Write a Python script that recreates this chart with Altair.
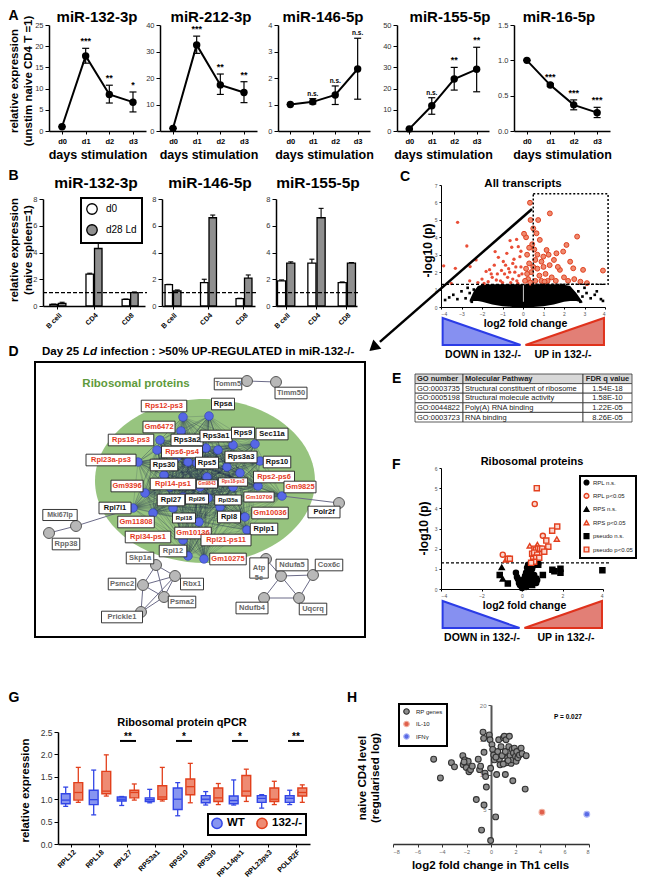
import itertools
import altair as alt
import pandas as pd

W, H = 630, 871
FONT = "Liberation Sans"
RED = "#e3401f"

# ---------------------------------------------------------------- data
A_titles = ["miR-132-3p", "miR-212-3p", "miR-146-5p", "miR-155-5p", "miR-16-5p"]
A_days = ["d0", "d1", "d2", "d3"]
A_mean = [[1.0, 17.7, 8.6, 6.8], [1.0, 32.5, 17.4, 14.5], [1.0, 1.1, 1.36, 2.34],
          [1.0, 11.9, 24.5, 29.1], [1.0, 0.65, 0.37, 0.26]]
A_lo = [[1.0, 16.0, 6.6, 4.5], [1.0, 29.3, 13.8, 10.7], [1.0, 1.02, 1.0, 1.2],
        [1.0, 7.9, 19.3, 18.5], [1.0, 0.63, 0.30, 0.19]]
A_hi = [[1.0, 19.5, 10.8, 9.2], [1.0, 35.8, 21.5, 18.6], [1.0, 1.22, 1.70, 3.5],
        [1.0, 15.7, 30.0, 39.5], [1.0, 0.67, 0.44, 0.335]]
A_sig = [["", "***", "**", "*"], ["", "***", "**", "**"], ["", "n.s.", "n.s.", "n.s."],
         ["", "n.s.", "**", "**"], ["", "***", "***", "***"]]
A_ymax = [25, 40, 4, 50, 1.5]
A_ystep = [5, 10, 1, 10, 0.5]

B_titles = ["miR-132-3p", "miR-146-5p", "miR-155-5p"]
B_cells = ["B cell", "CD4", "CD8"]
B_groups = ["d0", "d28 Ld"]
B_d0 = [[0.12, 2.38, 0.5], [1.6, 1.75, 0.55], [1.88, 3.2, 1.75]]
B_d0_err = [[0.14, 2.45, 0.52], [1.62, 2.0, 0.58], [1.95, 3.5, 1.8]]
B_d28 = [[0.2, 4.3, 1.0], [1.12, 6.6, 2.08], [3.2, 6.6, 3.2]]
B_d28_err = [[0.28, 4.9, 1.05], [1.2, 6.8, 2.32], [3.3, 7.3, 3.25]]

C_red_x = [-3.19, -3.87, -3.3, -2.74, -2.58, -2.29, -2.0, -1.8, -1.63, -1.5, -1.36, -1.2, -1.1, -0.96,
           -0.9, -0.79, -0.7, -0.63, -0.55, -0.5, -0.44, -0.4, -0.31, -0.23, -0.2, -0.15, -0.1, -1.4,
           -1.7, -2.2, -1.0, -0.3, -0.6, -1.25, -0.85, -0.5, -2.6, -3.5, -1.9, -1.55, -0.75, -0.35,
           -0.05, -0.1, -0.65, -1.05, -0.25, -1.3,
           0.34, 0.37, 0.5, 0.66, 0.74, 0.82, 1.31, 1.63, 1.96, 2.12, 2.64, 2.45, 2.93, 3.9, 3.12,
           0.99, 1.15, 1.51, 1.8, 0.2, 0.3, 0.4, 0.25, 0.55, 0.6, 0.7, 0.8, 0.9, 1.0, 1.1, 1.2, 1.3,
           1.4, 1.6, 1.7, 2.0, 2.2, 2.3, 2.5, 2.8, 0.45, 0.15, 0.1, 0.6, 1.05, 0.35, 0.7, 0.9, 1.25,
           0.5, 0.3, 0.15, 0.05, 0.2]
C_red_y = [4.86, 2.36, 2.22, 3.5, 2.32, 2.7, 1.6, 2.04, 2.14, 1.7, 3.18, 2.85, 1.5, 2.61,
           1.9, 3.08, 2.2, 3.81, 3.43, 1.6, 2.74, 2.0, 3.88, 3.46, 1.8, 2.89, 2.3, 2.4,
           1.45, 1.4, 1.4, 1.5, 1.4, 1.9, 2.4, 2.5, 1.5, 1.35, 1.35, 1.9, 1.7, 2.3,
           1.9, 3.2, 2.0, 2.1, 1.35, 1.55,
           5.98, 4.99, 4.51, 4.23, 4.99, 3.85, 5.37, 3.08, 3.18, 3.56, 4.04, 2.22, 2.13, 2.09, 1.37,
           2.89, 3.27, 2.7, 2.13, 3.0, 2.5, 2.0, 1.6, 3.3, 2.7, 2.2, 1.8, 1.5, 2.3, 1.9, 1.5, 2.4,
           1.7, 1.5, 2.3, 1.7, 1.5, 2.6, 1.6, 1.45, 3.6, 2.2, 1.5, 1.5, 1.45, 1.4, 3.0, 2.6, 3.0,
           2.3, 3.4, 4.0, 4.2, 1.9]
C_blk_x = [-3.6, -3.4, -3.2, -3.0, -2.8, -2.7, -2.6, -2.5, -2.4, -3.8, 2.7, 2.8, 2.9, 3.0, 3.1,
           3.3, 3.5, 3.6, 3.8, 3.9]
C_blk_y = [0.55, 0.7, 0.45, 0.9, 0.5, 1.1, 0.8, 0.3, 1.0, 0.4, 0.9, 0.3, 0.6, 1.1, 0.8, 0.5,
           0.7, 0.9, 0.45, 0.35]
C_env_x = [-2.6, -2.4, -2.2, -2.0, -1.5, -1.0, -0.5, 0.0, 0.5, 1.0, 1.5, 2.0, 2.3, 2.6, 2.9]
C_env_top = [0.4, 0.9, 1.2, 1.27, 1.3, 1.3, 1.3, 1.3, 1.3, 1.3, 1.3, 1.27, 1.2, 0.8, 0.3]
C_env_bot = [0.3, 0.35, 0.35, 0.3, 0.15, 0.05, 0.0, 0.0, 0.0, 0.05, 0.15, 0.3, 0.35, 0.35, 0.25]

# network (layout coordinates of the STRING graph)
D_rib_x = [183, 209, 181, 157, 160, 177, 206, 218, 233, 255, 138, 188, 197, 227, 240, 260, 164, 207,
           170, 183, 200, 233, 258, 282, 145, 133, 153, 173, 208, 220, 199, 245, 247, 183, 204, 188]
D_rib_y = [417, 416, 431, 450, 440, 457, 448, 450, 445, 444, 462, 462, 463, 467, 473, 461, 475, 477,
           487, 497, 487, 487, 486, 496, 493, 508, 513, 508, 498, 507, 522, 517, 530, 540, 559, 556]
D_grey = ["Tomm5", "Timm50", "Mki67Ip", "Rpp38", "Polr2f", "Skp1a", "Rbx1", "Psmc2", "Psma2",
          "Prickle1", "Atp5e", "Ndufa5", "Cox6c", "Ndufb4", "Uqcrq"]
D_grey_x = [247, 276, 76, 49, 339, 156, 175, 143, 164, 141, 266, 281, 313, 264, 299]
D_grey_y = [381, 382, 526, 533, 503, 565, 576, 585, 597, 612, 559, 576, 575, 598, 598]
D_grey_edges = [("Tomm5", "Timm50"), ("Mki67Ip", "Rpp38"), ("Skp1a", "Rbx1"), ("Skp1a", "Psmc2"),
                ("Skp1a", "Psma2"), ("Rbx1", "Psmc2"), ("Rbx1", "Psma2"), ("Rbx1", "Prickle1"),
                ("Psmc2", "Psma2"), ("Psmc2", "Prickle1"), ("Psma2", "Prickle1"),
                ("Atp5e", "Ndufa5"), ("Ndufa5", "Cox6c"), ("Ndufa5", "Ndufb4"), ("Ndufa5", "Uqcrq"),
                ("Cox6c", "Uqcrq"), ("Ndufb4", "Uqcrq"), ("Mki67Ip", 25), ("Polr2f", 23)]
D_lab = [("Rps12-ps3", 164, 406, "r", 7.5), ("Rpsa", 223, 404, "k", 7.5), ("Gm6472", 159, 427, "r", 7.5),
         ("Rps18-ps3", 131, 440, "r", 7.5), ("Rps3a2", 187, 440, "k", 7.5), ("Rps3a1", 216, 436, "k", 7.5),
         ("Rps9", 243, 433, "k", 7.5), ("Sec11a", 272, 434, "k", 7.5), ("Rps6-ps4", 182, 452, "r", 7.5),
         ("Rpl23a-ps3", 111, 460, "r", 7.5), ("Rps30", 164, 465, "k", 7.5), ("Rps5", 207, 463, "k", 7.5),
         ("Rps3a3", 241, 457, "k", 7.5), ("Rps10", 277, 462, "k", 7.5), ("Rps2-ps6", 274, 477, "r", 7.5),
         ("Gm9825", 300, 487, "r", 7.5), ("Gm9396", 127, 486, "r", 7.5), ("Rpl14-ps1", 173, 484, "r", 7.5),
         ("Gm9843", 207, 484, "r", 4.5), ("Rps18-ps3", 233, 482, "r", 4.5), ("Rpl27", 171, 500, "k", 7.5),
         ("Rpl26", 197, 499, "k", 6), ("Rpl35a", 228, 500, "k", 6), ("Gm10709", 259, 497, "r", 6),
         ("Rpl7l1", 115, 508, "k", 7.5), ("Gm11808", 136, 522, "r", 7.5), ("Rpl18", 184, 518, "k", 6),
         ("Rpl8", 229, 517, "k", 7.5), ("Gm10036", 270, 513, "r", 7.5), ("Rplp1", 264, 529, "k", 7.5),
         ("Gm10136", 193, 533, "r", 7.5), ("Rpl34-ps1", 148, 537, "r", 7.5),
         ("Rpl21-ps11", 226, 540, "r", 7.5), ("Rpl12", 173, 551, "g", 7.5), ("Gm10275", 228, 559, "r", 7.5),
         ("Polr2f", 324, 512, "k", 7.5), ("Mki67Ip", 60, 515, "g", 7), ("Rpp38", 66, 544, "g", 7.5),
         ("Tomm5", 228, 384, "g", 7.5), ("Timm50", 291, 393, "g", 7.5), ("Skp1a", 140, 558, "g", 7.5),
         ("Rbx1", 192, 584, "g", 7.5), ("Psmc2", 122, 584, "g", 7.5), ("Psma2", 182, 602, "g", 7.5),
         ("Prickle1", 122, 617, "g", 7.5), ("Atp\n5e", 259, 568, "g", 7.5), ("Ndufa5", 292, 565, "g", 7.5),
         ("Cox6c", 329, 565, "g", 7.5), ("Ndufb4", 252, 608, "g", 7.5), ("Uqcrq", 313, 609, "g", 7.5)]

E_cols = ["GO number", "Molecular Pathway", "FDR q value"]
E_go = ["GO:0003735", "GO:0005198", "GO:0044822", "GO:0003723"]
E_path = ["Structural constituent of ribosome", "Structural molecule activity",
          "Poly(A) RNA binding", "RNA binding"]
E_fdr = ["1.54E-18", "1.58E-10", "1.22E-05", "8.26E-05"]

F_types = ["RPL n.s.", "RPL p<0.05", "RPS n.s.", "RPS p<0.05", "pseudo n.s.", "pseudo p<0.05"]
F_pts = {
    "pseudo p<0.05": ([0.73, 1.49, 1.74, 3.87, 1.2, 0.62, 0.7, 0.8, 0.9, 1.0, 1.3, 0.5, 0.6, 0.75, 0.55,
                       0.7, 0.85, 0.6, 0.45, -0.7, -0.6, 1.1],
                      [5.0, 2.89, 3.1, 2.06, 2.4, 2.0, 1.95, 2.0, 2.0, 2.0, 2.1, 1.75, 1.8, 1.7, 1.5,
                       1.55, 1.55, 1.35, 1.3, 1.5, 1.5, 1.85]),
    "RPL p<0.05": ([0.63, -0.95, 1.03, 0.65, 0.75], [4.22, 1.7, 2.64, 1.62, 1.85]),
    "RPS p<0.05": ([0.38, 1.72, -0.8, 0.76, 0.7], [2.14, 2.48, 1.45, 2.2, 2.05]),
    "pseudo n.s.": ([3.97, 1.9, 1.9, 1.5, 1.6, 1.03, -1.1, -0.7, 0.8, 0.7, 0.4, 0.5],
                    [0.93, 1.0, 0.8, 0.95, 0.88, 0.7, 0.7, 0.27, 1.2, 0.5, 0.3, 0.2]),
    "RPS n.s.": ([-1.0, -0.95, 0.3, 0.5, 0.2], [1.07, 0.5, 0.8, 0.6, 0.35]),
    "RPL n.s.": ([0.0, 0.05, 0.1, 0.15, 0.2, 0.25, 0.3, 0.35, 0.4, 0.45, 0.5, 0.55, 0.6, 0.65, 0.7, 0.3,
                  0.35, 0.4, -0.3, -0.25, -0.2, -0.15, -0.1, 0.1, 0.2, 0.25, 0.45, 0.55, 0.6, 0.75, 0.8,
                  -0.05, 0.15],
                 [0.05, 0.1, 0.15, 0.2, 0.1, 0.3, 0.45, 0.6, 0.7, 0.9, 1.0, 1.15, 0.4, 0.55, 0.3, 1.2,
                  1.1, 1.0, 0.8, 0.6, 0.5, 0.3, 0.2, 0.5, 0.8, 1.05, 0.5, 0.35, 0.7, 0.45, 1.25,
                  0.4, 0.65]),
}

G_genes = ["RPL12", "RPL18", "RPL27", "RPS3a1", "RPS10", "RPS30", "RPL14ps1", "RPL23ps3", "POLR2F"]
G_grp = ["WT", "132-/-"]
G_wt = dict(mn=[0.84, 0.65, 0.86, 0.92, 0.63, 0.87, 0.87, 0.80, 0.88],
            q1=[0.90, 0.88, 0.96, 0.95, 0.77, 0.92, 0.90, 0.93, 0.93],
            md=[0.98, 0.99, 1.00, 0.99, 1.00, 1.00, 0.97, 1.02, 1.02],
            q3=[1.12, 1.20, 1.05, 1.03, 1.25, 1.08, 1.07, 1.08, 1.08],
            mx=[1.27, 1.65, 1.06, 1.22, 1.37, 1.17, 1.43, 1.10, 1.20])
G_ko = dict(mn=[0.93, 1.07, 0.98, 0.96, 0.92, 0.88, 0.95, 0.88, 0.93],
            q1=[0.98, 1.12, 1.03, 1.00, 1.10, 0.95, 1.07, 0.95, 1.07],
            md=[1.15, 1.18, 1.15, 1.05, 1.28, 1.03, 1.18, 1.00, 1.15],
            q3=[1.37, 1.62, 1.20, 1.30, 1.45, 1.25, 1.53, 1.25, 1.25],
            mx=[1.71, 1.99, 1.34, 1.71, 1.80, 1.35, 1.67, 1.40, 1.32])
G_sig = ["", "", "**", "", "*", "", "*", "", "**"]

H_types = ["RP genes", "IL-10", "IFNγ"]
H_rp_x = [-4.68, -4.13, -3.23, -2.98, -2.30, -2.27, -2.13, -2.02, -1.86, -1.80, -1.67, -1.53, -1.04,
          -0.93, -0.85, -0.65, -0.57, -0.49, -0.44, -0.38, -1.20, -0.57, -0.77, -0.03, 0.38, -0.14,
          -0.08, 0.08, 0.14, 0.22, 0.27, -0.03, 0.46, 0.55, 0.63, 0.68, 0.74, 0.82, 0.90, 1.01, 1.09,
          1.17, 1.23, 1.28, 1.36, 1.45, 1.50, 1.56, 1.64, 1.72, 1.78, 1.83, 1.91, 2.00, 2.05, 2.10,
          2.19, 2.32, 2.46, 2.54, 2.87, 1.17, 1.78, 2.79, -0.6, 0.4, 1.0, 1.4, -2.2]
H_rp_y = [12.2, 9.5, 11.7, 11.1, 12.7, 11.4, 12.1, 11.0, 11.9, 10.4, 10.7, 11.2, 12.2,
          10.7, 11.2, 16.1, 13.2, 10.2, 9.7, 8.2, 6.4, 5.6, 2.0, 0.5, 3.9, 15.7,
          15.0, 14.3, 13.6, 12.8, 12.1, 10.9, 10.0, 13.3, 15.0, 12.2, 11.4, 14.0, 12.7, 15.3, 15.5,
          13.3, 15.0, 11.7, 12.4, 14.0, 15.5, 12.7, 11.6, 13.6, 12.1, 13.1, 13.8, 12.6, 11.9, 13.3,
          12.4, 12.8, 13.8, 13.0, 12.7, 10.0, 9.1, 7.9, 15.2, 12.5, 11.5, 12.0, 11.8]
H_il10 = (4.16, 4.57)
H_ifng = (7.82, 4.28)


# ---------------------------------------------------------------- helpers
def cx(p):
    return p - 8


def cy(p):
    return p - 8


def yax(xp, **kw):
    kw.setdefault("title", None)
    return alt.Axis(orient="left", offset=-cx(xp), grid=False, **kw)


def xax(yp, **kw):
    kw.setdefault("title", None)
    return alt.Axis(orient="bottom", offset=cy(yp) - H, grid=False, **kw)


def txt(s, x, y, size=10, weight="bold", color="black", align="center", baseline="middle",
        angle=0, style="normal"):
    d = pd.DataFrame({"t": [s]})
    m = dict(fontSize=size, fontWeight=weight, color=color, align=align, baseline=baseline,
             font=FONT, fontStyle=style)
    if angle:
        m["angle"] = angle
    return alt.Chart(d).mark_text(**m).encode(text="t:N", x=alt.value(cx(x)), y=alt.value(cy(y)))


L = []

# ---------------------------------------------------------------- panel A
A_pix = [(49, 146), (160, 257), (278, 370), (397, 489), (514, 610)]
A_tcx = [97, 211, 323, 450, 559]
for i in range(5):
    x0, x1 = A_pix[i]
    df = pd.DataFrame({"day": A_days, "m": A_mean[i], "lo": A_lo[i], "hi": A_hi[i], "sig": A_sig[i]})
    df["fs"] = [6.5 if "n" in s else 9 for s in A_sig[i]]
    xs = alt.Scale(type="point", domain=A_days, range=[cx(x0), cx(x1)], padding=0.55)
    ys = alt.Scale(domain=[0, A_ymax[i]], range=[cy(131), cy(25)], nice=False, zero=True)
    nt = int(round(A_ymax[i] / A_ystep[i]))
    ticks = [round(k * A_ystep[i], 2) for k in range(nt + 1)]
    fmt = ".1f" if A_ystep[i] < 1 else "d"
    xa = xax(131, title="days stimulation", titleX=cx((x0 + x1) / 2), titleY=23, titleFontSize=12.5,
             titleFontWeight="bold", titleBaseline="middle", titleAlign="center", labelFontWeight="bold",
             labelFontSize=7.5, labelAngle=0, tickSize=3, domainWidth=1.5, labelPadding=3,
             labelColor="black")
    ya = yax(x0, values=ticks, format=fmt, labelFontSize=7.5, tickSize=4, domainWidth=1.5,
             labelColor="#333")
    base = alt.Chart(df)
    Xn = alt.X("day:O", scale=xs, axis=None)
    L.append(base.mark_rule(color="black", strokeWidth=1.2).encode(
        x=Xn, y=alt.Y("lo:Q", scale=ys, axis=None), y2="hi:Q"))
    L.append(base.mark_tick(color="black", size=7, thickness=1.2, opacity=1).encode(
        x=Xn, y=alt.Y("hi:Q", scale=ys, axis=None)))
    L.append(base.mark_tick(color="black", size=7, thickness=1.2, opacity=1).encode(
        x=Xn, y=alt.Y("lo:Q", scale=ys, axis=None)))
    L.append(base.mark_line(color="black", strokeWidth=2).encode(
        x=alt.X("day:O", scale=xs, axis=xa), y=alt.Y("m:Q", scale=ys, axis=ya)))
    L.append(base.mark_circle(color="black", size=55, opacity=1).encode(
        x=Xn, y=alt.Y("m:Q", scale=ys, axis=None)))
    L.append(base.mark_text(font=FONT, fontWeight="bold", baseline="bottom", dy=-2, color="black").encode(
        x=Xn, y=alt.Y("hi:Q", scale=ys, axis=None), text="sig:N", size=alt.Size("fs:Q", scale=None)))
    L.append(txt(A_titles[i], A_tcx[i], 17, 15))
L.append(txt("relative expression", 15, 81, 11.5, angle=270))
L.append(txt("(unstim naive CD4 T =1)", 29, 81, 11.5, angle=270))

# ---------------------------------------------------------------- panel B
B_pix = [(43, 145, 0.556, 0.19), (162, 255, 0.55, 0.085), (276, 357, 0.43, 0.05)]
B_tcx = [96, 210, 318]
for i in range(3):
    x0, x1, pin, pout = B_pix[i]
    rows = []
    for j, c in enumerate(B_cells):
        rows.append(dict(cell=c, grp=B_groups[0], val=B_d0[i][j], err=B_d0_err[i][j]))
        rows.append(dict(cell=c, grp=B_groups[1], val=B_d28[i][j], err=B_d28_err[i][j]))
    df = pd.DataFrame(rows)
    xs = alt.Scale(type="band", domain=B_cells, range=[cx(x0), cx(x1)], paddingInner=pin,
                   paddingOuter=pout)
    xo = alt.Scale(type="band", domain=B_groups, paddingInner=0.12, paddingOuter=0)
    ys = alt.Scale(domain=[0, 8], range=[cy(306), cy(199)], nice=False)
    xa = xax(306, labelAngle=-45, labelFontSize=7, labelFontWeight="bold", tickSize=3,
             domainWidth=1.5, labelPadding=2, labelColor="black")
    ya = yax(x0, values=[0, 2, 4, 6, 8], labelFontSize=7.5, tickSize=4, domainWidth=1.5,
             labelColor="#333")
    if i == 0:
        leg = alt.Legend(orient="none", legendX=cx(81), legendY=cy(198), title=None,
                         symbolType="circle", symbolSize=110, symbolStrokeColor="black",
                         symbolStrokeWidth=1.3, labelFontSize=10, rowPadding=5, padding=5,
                         labelOffset=8)
    else:
        leg = None
    base = alt.Chart(df)
    Xn = alt.X("cell:N", scale=xs, axis=None)
    XO = alt.XOffset("grp:N", scale=xo)
    L.append(base.mark_rule(color="black", strokeWidth=1.1).encode(
        x=Xn, xOffset=XO, y=alt.Y("val:Q", scale=ys, axis=None), y2="err:Q"))
    L.append(base.mark_tick(color="black", size=5, thickness=1.1, opacity=1).encode(
        x=Xn, xOffset=XO, y=alt.Y("err:Q", scale=ys, axis=None)))
    L.append(base.mark_bar(stroke="black", strokeWidth=1.3).encode(
        x=alt.X("cell:N", scale=xs, axis=xa), xOffset=XO,
        y=alt.Y("val:Q", scale=ys, axis=ya),
        fill=alt.Fill("grp:N", scale=alt.Scale(domain=B_groups, range=["white", "#8f8f8f"]), legend=leg)))
    L.append(alt.Chart(pd.DataFrame({"y": [1.0]})).mark_rule(
        color="black", strokeDash=[4, 2], strokeWidth=1.4).encode(
        y=alt.Y("y:Q", scale=ys, axis=None), x=alt.value(cx(x0)), x2=alt.value(cx(x1 + 2))))
    L.append(txt(B_titles[i], B_tcx[i], 183, 15.5))
L.append(txt("relative expression", 15, 250, 11.5, angle=270))
L.append(txt("(naive spleen=1)", 29, 250, 11.5, angle=270))

# ---------------------------------------------------------------- panel C
xsC = alt.Scale(domain=[-4, 4], range=[cx(441), cx(605)], nice=False, zero=False)
ysC = alt.Scale(domain=[0, 7], range=[cy(307), cy(185)], nice=False, zero=False)


def CX(f):
    return alt.X(f, scale=xsC, axis=None)


def CY(f):
    return alt.Y(f, scale=ysC, axis=None)


axCx = xax(307, values=list(range(-4, 5)), labelFontSize=5, labelColor="#555", tickSize=2,
           domainWidth=1, title="log2 fold change", titleX=cx(525), titleY=16, titleFontSize=10.5,
           titleFontWeight="bold", titleBaseline="middle", titleAlign="center")
axCy = yax(441, values=list(range(0, 8)), labelFontSize=5, labelColor="#555", tickSize=2,
           domainWidth=1, title="-log10 (p)", titleX=-14, titleY=cy(250), titleAngle=270,
           titleFontSize=12, titleFontWeight="bold", titleBaseline="middle", titleAlign="center")
envdf = pd.DataFrame({"x": C_env_x, "top": C_env_top, "bot": C_env_bot})
redf = pd.DataFrame({"x": C_red_x, "y": C_red_y})
redf["big"] = redf["x"] > 0
blkdf = pd.DataFrame({"x": C_blk_x, "y": C_blk_y})
L.append(alt.Chart(envdf).mark_area(color="black", opacity=1).encode(
    x=alt.X("x:Q", scale=xsC, axis=axCx), y=alt.Y("top:Q", scale=ysC, axis=axCy), y2="bot:Q"))
L.append(alt.Chart(pd.DataFrame({"x": [0.02], "y0": [0.3], "y1": [1.25]})).mark_rule(
    color="white", strokeWidth=0.8).encode(x=CX("x:Q"), y=CY("y0:Q"), y2="y1:Q"))
L.append(alt.Chart(blkdf).mark_square(color="black", size=7, opacity=1).encode(x=CX("x:Q"), y=CY("y:Q")))
L.append(alt.Chart(redf[~redf["big"]]).mark_circle(color="#e8452c", size=11, opacity=0.95).encode(
    x=CX("x:Q"), y=CY("y:Q")))
L.append(alt.Chart(redf[redf["big"]]).mark_circle(
    fill="#ef8a6f", stroke="#e0401f", strokeWidth=1, size=24, opacity=1).encode(x=CX("x:Q"), y=CY("y:Q")))
L.append(alt.Chart(pd.DataFrame({"x0": [-4], "x1": [4], "y": [1.3]})).mark_rule(
    color="black", strokeDash=[3, 2], strokeWidth=1.2).encode(x=CX("x0:Q"), x2="x1:Q", y=CY("y:Q")))
L.append(alt.Chart(pd.DataFrame({"x0": [0.5], "x1": [4.15], "y0": [1.3], "y1": [6.5]})).mark_rect(
    fill="transparent", stroke="black", strokeDash=[2, 2], strokeWidth=1.5).encode(
    x=CX("x0:Q"), x2="x1:Q", y=CY("y0:Q"), y2="y1:Q"))
L.append(txt("All transcripts", 523, 184, 11.5))


def triangles(xa, xb, ytop, ybot, cut):
    xs = alt.Scale(domain=[-4, 4], range=[cx(xa), cx(xb)], nice=False, zero=False)
    ys = alt.Scale(domain=[0, 1], range=[cy(ybot), cy(ytop)], nice=False, zero=False)
    blue = pd.DataFrame({"x": [-3.92, -cut], "top": [1.0, 0.0], "bot": [0.0, 0.0]})
    red = pd.DataFrame({"x": [cut, 3.95], "top": [0.0, 1.0], "bot": [0.0, 0.0]})
    tb = alt.Chart(blue).mark_area(fill="#8690f1", stroke="#2b3ce6", strokeWidth=2, opacity=1).encode(
        x=alt.X("x:Q", scale=xs, axis=None), y=alt.Y("top:Q", scale=ys, axis=None), y2="bot:Q")
    tr = alt.Chart(red).mark_area(fill="#e27f76", stroke="#e0321c", strokeWidth=2, opacity=1).encode(
        x=alt.X("x:Q", scale=xs, axis=None), y=alt.Y("top:Q", scale=ys, axis=None), y2="bot:Q")
    return [tb, tr]


L.extend(triangles(441, 605, 318, 345, 0.12))
L.append(txt("DOWN in 132-/-", 483, 355, 10.5))
L.append(txt("UP in 132-/-", 563, 355, 10.5))

# ---------------------------------------------------------------- panel D
xsD = alt.Scale(domain=[35, 365], range=[cx(35), cx(365)], nice=False, zero=False)
ysD = alt.Scale(domain=[362, 637], range=[cy(362), cy(637)], nice=False, zero=False)


def DX(f):
    return alt.X(f, scale=xsD, axis=None)


def DY(f):
    return alt.Y(f, scale=ysD, axis=None)


ELL = "M-1,0A1,0.745,0,1,0,1,0A1,0.745,0,1,0,-1,0Z"
L.append(alt.Chart(pd.DataFrame({"x0": [35], "x1": [365], "y0": [362], "y1": [637]})).mark_rect(
    fill="white", stroke="black", strokeWidth=2).encode(x=DX("x0:Q"), x2="x1:Q", y=DY("y0:Q"), y2="y1:Q"))
L.append(alt.Chart(pd.DataFrame({"x": [205], "y": [481]})).mark_point(
    shape=ELL, filled=True, color="#97c47f", opacity=1, size=220 ** 2).encode(x=DX("x:Q"), y=DY("y:Q")))
rib = list(zip(D_rib_x, D_rib_y))
edges = pd.DataFrame([dict(x1=a[0], y1=a[1], x2=b[0], y2=b[1]) for a, b in itertools.combinations(rib, 2)])
L.append(alt.Chart(edges).mark_rule(color="#1b2550", strokeWidth=0.6, opacity=0.3).encode(
    x=DX("x1:Q"), y=DY("y1:Q"), x2="x2:Q", y2="y2:Q"))
gpos = {n: (x, y) for n, x, y in zip(D_grey, D_grey_x, D_grey_y)}
grows = []
for a, b in D_grey_edges:
    pa = gpos[a]
    pb = gpos[b] if isinstance(b, str) else rib[b]
    grows.append(dict(x1=pa[0], y1=pa[1], x2=pb[0], y2=pb[1]))
L.append(alt.Chart(pd.DataFrame(grows)).mark_rule(color="#6b6b88", strokeWidth=1).encode(
    x=DX("x1:Q"), y=DY("y1:Q"), x2="x2:Q", y2="y2:Q"))
L.append(alt.Chart(pd.DataFrame({"x": D_rib_x, "y": D_rib_y})).mark_circle(
    size=75, color="#5667e6", stroke="#2d3cae", strokeWidth=0.6, opacity=1).encode(x=DX("x:Q"), y=DY("y:Q")))
L.append(alt.Chart(pd.DataFrame({"x": D_grey_x, "y": D_grey_y})).mark_circle(
    size=120, color="#b8b8b8", stroke="#555", strokeWidth=1, opacity=1).encode(x=DX("x:Q"), y=DY("y:Q")))
cmap = {"r": "#e5391d", "k": "#111111", "g": "#666666"}
lrows = []
for name, x, y, c, fs in D_lab:
    lines = name.split("\n")
    w = fs * 0.6 * max(len(s) for s in lines) + 5
    h = fs * 1.15 * len(lines) + 3
    lrows.append(dict(t=name, x=x, y=y, x0=x - w / 2, x1=x + w / 2, y0=y - h / 2, y1=y + h / 2,
                      col=cmap[c], fs=fs))
ldf = pd.DataFrame(lrows)
L.append(alt.Chart(ldf).mark_rect(fill="white", stroke="#222", strokeWidth=0.9).encode(
    x=DX("x0:Q"), x2="x1:Q", y=DY("y0:Q"), y2="y1:Q"))
L.append(alt.Chart(ldf).mark_text(font=FONT, fontWeight="bold", lineBreak="\n").encode(
    x=DX("x:Q"), y=DY("y:Q"), text="t:N", size=alt.Size("fs:Q", scale=None),
    color=alt.Color("col:N", scale=None)))
L.append(txt("Ribosomal proteins", 136, 384, 11.5, color="#5e9a3c"))
L.append(txt("Day 25", 42, 352, 11.5, align="left"))
L.append(txt("Ld", 83, 352, 11.5, align="left", style="italic"))
L.append(txt("infection : >50% UP-REGULATED in miR-132-/-", 100.5, 352, 11.5, align="left"))
# arrow from the volcano box to panel D
L.append(alt.Chart(pd.DataFrame({"x0": [0.44], "y0": [5.62], "x1": [-6.98], "y1": [-2.0]})).mark_rule(
    color="black", strokeWidth=2.5).encode(x=CX("x0:Q"), y=CY("y0:Q"), x2="x1:Q", y2="y1:Q"))
L.append(alt.Chart(pd.DataFrame({"x": [-7.3], "y": [-2.33]})).mark_point(
    shape="triangle-up", angle=229, filled=True, size=150, color="black", opacity=1).encode(
    x=CX("x:Q"), y=CY("y:Q")))

# ---------------------------------------------------------------- panel E
E_edges = [415, 463, 583, 632]
xsE = alt.Scale(domain=[415, 632], range=[cx(415), cx(632)], nice=False, zero=False)
ysE = alt.Scale(domain=[0, 5], range=[cy(374), cy(422)], nice=False, zero=False)
erows = []
body = [E_cols] + [[E_go[k], E_path[k], E_fdr[k]] for k in range(4)]
for r in range(5):
    for c in range(3):
        erows.append(dict(r0=r, r1=r + 1, rm=r + 0.55, c0=E_edges[c], c1=E_edges[c + 1],
                          tx=E_edges[c] + 2 if c < 2 else (E_edges[2] + E_edges[3]) / 2,
                          t=body[r][c], hdr=(r == 0), ctr=(c == 2),
                          fillc="#d8d8d8" if r == 0 else "white"))
edf = pd.DataFrame(erows)
L.append(alt.Chart(edf).mark_rect(stroke="#333", strokeWidth=0.8).encode(
    x=alt.X("c0:Q", scale=xsE, axis=None), x2="c1:Q", y=alt.Y("r0:Q", scale=ysE, axis=None), y2="r1:Q",
    fill=alt.Fill("fillc:N", scale=None)))
for hdr in (True, False):
    for ctr in (False, True):
        sub = edf[(edf["hdr"] == hdr) & (edf["ctr"] == ctr)]
        L.append(alt.Chart(sub).mark_text(
            font=FONT, fontSize=7.5, fontWeight="bold" if hdr else "normal",
            align="center" if ctr else "left", baseline="middle", color="#222").encode(
            x=alt.X("tx:Q", scale=xsE, axis=None), y=alt.Y("rm:Q", scale=ysE, axis=None), text="t:N"))

# ---------------------------------------------------------------- panel F
xsF = alt.Scale(domain=[-4, 4], range=[cx(441), cx(603)], nice=False, zero=False)
ysF = alt.Scale(domain=[0, 6], range=[cy(589), cy(468)], nice=False, zero=False)
frows = []
for t in F_types:
    xs_, ys_ = F_pts[t]
    for a, b in zip(xs_, ys_):
        frows.append(dict(x=a, y=b, type=t))
fdf = pd.DataFrame(frows)
sig_fill = "#fbd6cd"
legF = alt.Legend(orient="none", legendX=cx(580), legendY=cy(476), title=None, labelFontSize=6,
                  symbolSize=22, symbolStrokeWidth=1.4, rowPadding=2.4, padding=3, labelOffset=3,
                  labelColor="#222")
axFx = xax(589, values=[-4, -2, 0, 2, 4], labelFontSize=5, labelColor="#555", tickSize=2, domainWidth=1,
           title="log2 fold change", titleX=cx(524), titleY=16, titleFontSize=10.5,
           titleFontWeight="bold", titleBaseline="middle", titleAlign="center")
axFy = yax(441, values=list(range(0, 7)), labelFontSize=5, labelColor="#555", tickSize=2,
           domainWidth=1, title="-log10 (p)", titleX=-18, titleY=cy(528), titleAngle=270,
           titleFontSize=12, titleFontWeight="bold", titleBaseline="middle", titleAlign="center")
L.append(alt.Chart(pd.DataFrame({"x0": [-4], "x1": [4.3], "y": [1.3]})).mark_rule(
    color="black", strokeDash=[3, 2], strokeWidth=1.2).encode(
    x=alt.X("x0:Q", scale=xsF, axis=None), x2="x1:Q", y=alt.Y("y:Q", scale=ysF, axis=None)))
L.append(alt.Chart(fdf).mark_point(filled=True, size=26, strokeWidth=1.4, opacity=1).encode(
    x=alt.X("x:Q", scale=xsF, axis=axFx), y=alt.Y("y:Q", scale=ysF, axis=axFy),
    shape=alt.Shape("type:N", scale=alt.Scale(domain=F_types, range=[
        "circle", "circle", "triangle-up", "triangle-up", "square", "square"]), legend=legF),
    fill=alt.Fill("type:N", scale=alt.Scale(domain=F_types, range=[
        "black", sig_fill, "black", sig_fill, "black", sig_fill]), legend=legF),
    stroke=alt.Stroke("type:N", scale=alt.Scale(domain=F_types, range=[
        "black", RED, "black", RED, "black", RED]), legend=legF)))
L.append(txt("Ribosomal proteins", 532, 462, 11))
L.extend(triangles(441, 603, 601, 628, 0.12))
L.append(txt("DOWN in 132-/-", 482, 638, 10.5))
L.append(txt("UP in 132-/-", 566, 638, 10.5))

# ---------------------------------------------------------------- panel G
grows2 = []
for k, g in enumerate(G_genes):
    for grp, st in (("WT", G_wt), ("132-/-", G_ko)):
        grows2.append(dict(gene=g, grp=grp, mn=st["mn"][k], q1=st["q1"][k], md=st["md"][k],
                           q3=st["q3"][k], mx=st["mx"][k]))
gdf = pd.DataFrame(grows2)
xsG = alt.Scale(type="band", domain=G_genes, range=[cx(58), cx(310)], paddingInner=0.1, paddingOuter=0.05)
xoG = alt.Scale(type="band", domain=G_grp, paddingInner=0.3, paddingOuter=0.15)
ysG = alt.Scale(domain=[0, 2.5], range=[cy(844), cy(732)], nice=False, zero=True)
legG = alt.Legend(orient="none", legendX=cx(208), legendY=cy(814), direction="horizontal", title=None,
                  symbolType="circle", symbolSize=105, symbolStrokeWidth=1.5, labelFontSize=11.5,
                  labelFontWeight="bold", columnPadding=8, padding=3, labelOffset=4, labelColor="black")
fill_sc = alt.Scale(domain=G_grp, range=["#8795f0", "#ee8b73"])
stroke_sc = alt.Scale(domain=G_grp, range=["#3246e6", "#e2401c"])
axGx = xax(844, labelAngle=-45, labelFontSize=7.2, labelFontWeight="bold", tickSize=3, domainWidth=1.5,
           labelPadding=1, labelColor="black")
axGy = yax(58, values=[0, 0.5, 1, 1.5, 2, 2.5], format=".1f", labelFontSize=8.5, tickSize=4,
           domainWidth=1.5, labelColor="#333", title="relative expression", titleX=-33, titleY=cy(790),
           titleAngle=270, titleFontSize=11.5, titleFontWeight="bold", titleBaseline="middle",
           titleAlign="center")
GX = alt.X("gene:N", scale=xsG, axis=None)
GO = alt.XOffset("grp:N", scale=xoG)
SN = alt.Stroke("grp:N", scale=stroke_sc, legend=None)
gb = alt.Chart(gdf)
L.append(gb.mark_rule(strokeWidth=1.3).encode(
    x=GX, xOffset=GO, y=alt.Y("mn:Q", scale=ysG, axis=None), y2="mx:Q", stroke=SN))
L.append(gb.mark_bar(strokeWidth=1.4).encode(
    x=alt.X("gene:N", scale=xsG, axis=axGx), xOffset=GO, y=alt.Y("q1:Q", scale=ysG, axis=axGy), y2="q3:Q",
    fill=alt.Fill("grp:N", scale=fill_sc, legend=legG), stroke=alt.Stroke("grp:N", scale=stroke_sc, legend=legG)))
for fld, sz in (("md", 8), ("mn", 5), ("mx", 5)):
    L.append(gb.mark_tick(size=sz, thickness=1.3, opacity=1).encode(
        x=GX, xOffset=GO, y=alt.Y(fld + ":Q", scale=ysG, axis=None),
        color=alt.Color("grp:N", scale=stroke_sc, legend=None)))
sdf = pd.DataFrame({"gene": G_genes, "s": G_sig, "y": [2.3] * len(G_genes)})
sdf = sdf[sdf["s"] != ""]
L.append(alt.Chart(sdf).mark_tick(size=16, thickness=2, color="black", opacity=1).encode(
    x=GX, y=alt.Y("y:Q", scale=ysG, axis=None)))
L.append(alt.Chart(sdf).mark_text(font=FONT, fontSize=10, fontWeight="bold", baseline="bottom", dy=1,
                                  color="black").encode(
    x=GX, y=alt.Y("y:Q", scale=ysG, axis=None), text="s:N"))
L.append(txt("Ribosomal protein qPCR", 182, 723, 11))

# ---------------------------------------------------------------- panel H
hdf = pd.DataFrame({"x": H_rp_x + [H_il10[0], H_ifng[0]], "y": H_rp_y + [H_il10[1], H_ifng[1]],
                    "type": ["RP genes"] * len(H_rp_x) + ["IL-10", "IFNγ"]})
xsH = alt.Scale(domain=[-8, 8], range=[cx(393), cx(589)], nice=False, zero=False)
ysH = alt.Scale(domain=[0, 20], range=[cy(844), cy(705)], nice=False, zero=False)
axHx = xax(844, values=list(range(-8, 9, 2)), labelFontSize=5.5, labelColor="#666", tickSize=3,
           domainWidth=1.5, domainColor="#333", tickColor="#333", title="log2 fold change in Th1 cells",
           titleX=cx(490), titleY=21, titleFontSize=11.5, titleFontWeight="bold", titleBaseline="middle",
           titleAlign="center")
axHy = yax(491, values=[5, 10, 15, 20], labelFontSize=6, labelColor="#777", tickSize=3, domainWidth=2,
           domainColor="#555", tickColor="#555")
legH = alt.Legend(orient="none", legendX=cx(399), legendY=cy(704), title=None, labelFontSize=6,
                  symbolSize=30, symbolStrokeWidth=1.2, rowPadding=1.5, padding=4, labelOffset=6,
                  labelColor="#222")
L.append(alt.Chart(hdf).mark_point(filled=True, size=34, strokeWidth=1.1, opacity=1).encode(
    x=alt.X("x:Q", scale=xsH, axis=axHx), y=alt.Y("y:Q", scale=ysH, axis=axHy),
    fill=alt.Fill("type:N", scale=alt.Scale(domain=H_types, range=["#8d8d8d", "#e0604c", "#5a6be6"]),
                  legend=legH),
    stroke=alt.Stroke("type:N", scale=alt.Scale(domain=H_types, range=["#333333", "#f0b0a0", "#b0b8f5"]),
                      legend=legH)))
L.append(txt("P = 0.027", 568, 717, 6.5))
L.append(txt("naive CD4 level", 363, 778, 11.5, angle=270))
L.append(txt("(regularised log)", 376, 778, 11.5, angle=270))

# ---------------------------------------------------------------- panel letters
for lt, x, y in [("A", 8.5, 16), ("B", 8.5, 176), ("C", 400, 177), ("D", 8.5, 352), ("E", 392, 379),
                 ("F", 392, 465), ("G", 8.5, 698), ("H", 347, 698)]:
    L.append(txt(lt, x, y, 14, align="left"))

chart = alt.layer(*L).resolve_scale(
    x="independent", y="independent", xOffset="independent", fill="independent",
    stroke="independent", shape="independent", color="independent", size="independent"
).properties(
    width=W, height=H, autosize=alt.AutoSizeParams(type="none"), padding=0
).configure(font=FONT).configure_view(stroke="transparent").configure_axis(
    labelFont=FONT, titleFont=FONT, grid=False, domainColor="black", tickColor="black", titleColor="black"
).configure_legend(labelFont=FONT, titleFont=FONT, strokeColor="black", strokeWidth=2, fillColor="white")

chart.save("out.html", embed_options={"renderer": "svg", "actions": False})
